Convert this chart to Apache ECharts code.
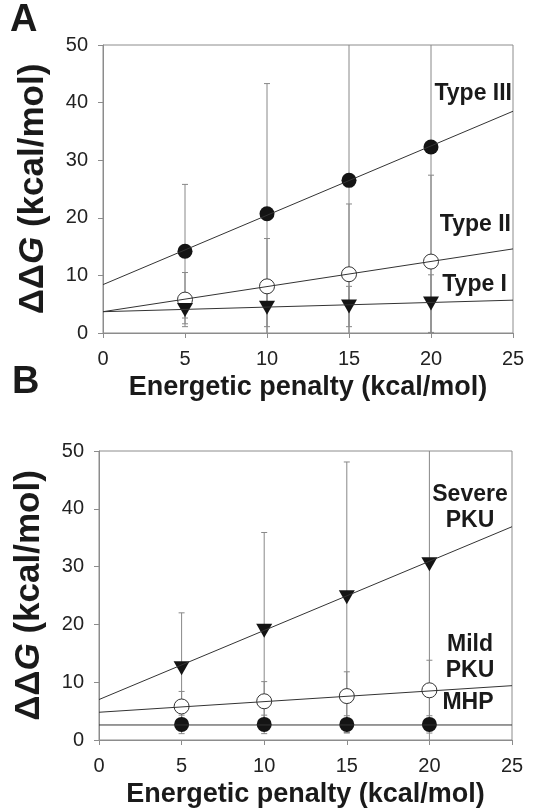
<!DOCTYPE html>
<html>
<head>
<meta charset="utf-8">
<script src="https://cdn.jsdelivr.net/npm/echarts@6/dist/echarts.min.js"></script>
<style>
html,body{margin:0;padding:0;background:#fff;}
#chart{width:533px;height:810px;}
</style>
</head>
<body>
<div id="chart"></div>
<script>
// ---------- data ----------
const xVals = [5, 10, 15, 20];
const xTicks = [0, 5, 10, 15, 20, 25];
const yTicks = [0, 10, 20, 30, 40, 50];

// Panel A
const typeIII = [14.2, 20.7, 26.5, 32.3];
const typeIIIErr = [11.6, 22.6, 30.0, 36.0];
const typeII = [5.8, 8.1, 10.2, 12.4];
const typeIIErr = [4.7, 8.3, 12.2, 15.0];
const typeI = [4.0, 4.4, 4.6, 5.1];
const typeIErr = [2.4, 3.3, 3.5, 5.0];
const fitIII = [[0, 8.4], [25, 38.5]];
const fitII = [[0, 3.7], [25, 14.6]];
const fitI = [[0, 3.7], [25, 5.7]];

// Panel B
const severe = [12.4, 18.9, 24.7, 30.4];
const severeErr = [9.6, 17.0, 23.4, 32.0];
const mild = [5.8, 6.7, 7.6, 8.6];
const mildErr = [2.6, 3.4, 4.2, 5.2];
const mhp = [2.7, 2.7, 2.7, 2.7];
const mhpErr = [1.6, 1.6, 1.5, 1.5];
const fitSevere = [[0, 7.0], [25, 36.9]];
const fitMild = [[0, 4.8], [25, 9.4]];
const fitMhp = [[0, 2.6], [25, 2.6]];

// ---------- helpers ----------
const FONT = "'Liberation Sans', Arial, sans-serif";
const AXIS_COLOR = '#8c8c8c';
const Y_MIN = 0, Y_MAX = 50;

function pts(vals, errs) {
  return xVals.map((x, i) => errs ? [x, vals[i], errs[i]] : [x, vals[i]]);
}

function errItem(params, api) {
  const x = api.value(0), y = api.value(1), e = api.value(2);
  const loV = y - e, hiV = y + e;
  const lo = Math.max(Y_MIN, loV), hi = Math.min(Y_MAX, hiV);
  const p1 = api.coord([x, lo]), p2 = api.coord([x, hi]);
  const st = { stroke: '#888', lineWidth: 1 };
  const ch = [{ type: 'line', shape: { x1: p1[0], y1: p1[1], x2: p2[0], y2: p2[1] }, style: st }];
  const w = 3;
  if (loV >= Y_MIN) ch.push({ type: 'line', shape: { x1: p1[0] - w, y1: p1[1], x2: p1[0] + w, y2: p1[1] }, style: st });
  if (hiV <= Y_MAX) ch.push({ type: 'line', shape: { x1: p2[0] - w, y1: p2[1], x2: p2[0] + w, y2: p2[1] }, style: st });
  return { type: 'group', children: ch };
}

function errSeries(idx, vals, errs) {
  return { type: 'custom', xAxisIndex: idx, yAxisIndex: idx, renderItem: errItem,
    data: pts(vals, errs), encode: { x: 0, y: 1 }, silent: true };
}
function fitSeries(idx, d) {
  return { type: 'line', xAxisIndex: idx, yAxisIndex: idx, data: d, showSymbol: false,
    lineStyle: { color: '#333', width: 1 }, silent: true };
}
function markSeries(idx, vals, kind) {
  const s = { type: 'scatter', xAxisIndex: idx, yAxisIndex: idx, data: pts(vals), silent: true };
  if (kind === 'filled') { s.symbol = 'circle'; s.symbolSize = 15; s.itemStyle = { color: '#141414', opacity: 1 }; }
  if (kind === 'open') { s.symbol = 'circle'; s.symbolSize = 15; s.itemStyle = { color: '#fff', borderColor: '#333', borderWidth: 1, opacity: 1 }; }
  if (kind === 'tri') { s.symbol = 'triangle'; s.symbolRotate = 180; s.symbolSize = [16, 14]; s.itemStyle = { color: '#141414', opacity: 1 }; }
  return s;
}

function xAxis(idx) {
  return { gridIndex: idx, type: 'value', min: 0, max: 25, interval: 5,
    name: 'Energetic penalty (kcal/mol)', nameLocation: 'middle', nameGap: 41,
    nameTextStyle: { fontSize: 27, fontWeight: 'bold', color: '#1a1a1a', fontFamily: FONT },
    axisLine: { lineStyle: { color: AXIS_COLOR } },
    axisTick: { inside: false, length: 5, lineStyle: { color: AXIS_COLOR } },
    axisLabel: { fontSize: 20, color: '#222', fontFamily: FONT, margin: 16 },
    splitLine: { show: false } };
}
function yAxis(idx) {
  return { gridIndex: idx, type: 'value', min: 0, max: 50, interval: 10,
    name: '{d|ΔΔ}{g|G}{d| (kcal/mol)}', nameLocation: 'middle', nameGap: 52, nameRotate: 90,
    nameTextStyle: { rich: {
      d: { fontSize: 35, fontWeight: 'bold', color: '#1a1a1a', fontFamily: FONT },
      g: { fontSize: 35, fontWeight: 'bold', fontStyle: 'italic', color: '#1a1a1a', fontFamily: FONT } } },
    axisLine: { lineStyle: { color: AXIS_COLOR } },
    axisTick: { inside: false, length: 5, lineStyle: { color: AXIS_COLOR } },
    axisLabel: { fontSize: 20, color: '#222', fontFamily: FONT, margin: 15 },
    splitLine: { show: false } };
}

function label(text, x, y, align, size) {
  return { type: 'text', x: x, y: y, silent: true,
    style: { text: text, fill: '#1a1a1a', font: 'bold ' + (size || 23) + 'px ' + FONT,
      align: align || 'right', verticalAlign: 'middle' } };
}

const chart = echarts.init(document.getElementById('chart'));
chart.setOption({
  animation: false,
  backgroundColor: '#fff',
  grid: [
    { left: 103, top: 45, width: 410, height: 288, show: true, borderColor: AXIS_COLOR, borderWidth: 1, backgroundColor: 'transparent' },
    { left: 99, top: 451, width: 413, height: 289, show: true, borderColor: AXIS_COLOR, borderWidth: 1, backgroundColor: 'transparent' }
  ],
  xAxis: [xAxis(0), xAxis(1)],
  yAxis: [yAxis(0), yAxis(1)],
  series: [
    fitSeries(0, fitIII), fitSeries(0, fitII), fitSeries(0, fitI),
    errSeries(0, typeIII, typeIIIErr), markSeries(0, typeIII, 'filled'),
    errSeries(0, typeII, typeIIErr), markSeries(0, typeII, 'open'),
    errSeries(0, typeI, typeIErr), markSeries(0, typeI, 'tri'),
    fitSeries(1, fitSevere), fitSeries(1, fitMild), fitSeries(1, fitMhp),
    errSeries(1, severe, severeErr), markSeries(1, severe, 'tri'),
    errSeries(1, mild, mildErr), markSeries(1, mild, 'open'),
    errSeries(1, mhp, mhpErr), markSeries(1, mhp, 'filled')
  ],
  graphic: [
    label('A', 10, 21, 'left', 38),
    label('B', 12, 383, 'left', 38),
    label('Type III', 512, 94),
    label('Type II', 511, 225),
    label('Type I', 507, 285),
    label('Severe', 470, 495, 'center'),
    label('PKU', 470, 521, 'center'),
    label('Mild', 470, 645, 'center'),
    label('PKU', 470, 671, 'center'),
    label('MHP', 468, 703, 'center')
  ]
});
</script>
</body>
</html>
